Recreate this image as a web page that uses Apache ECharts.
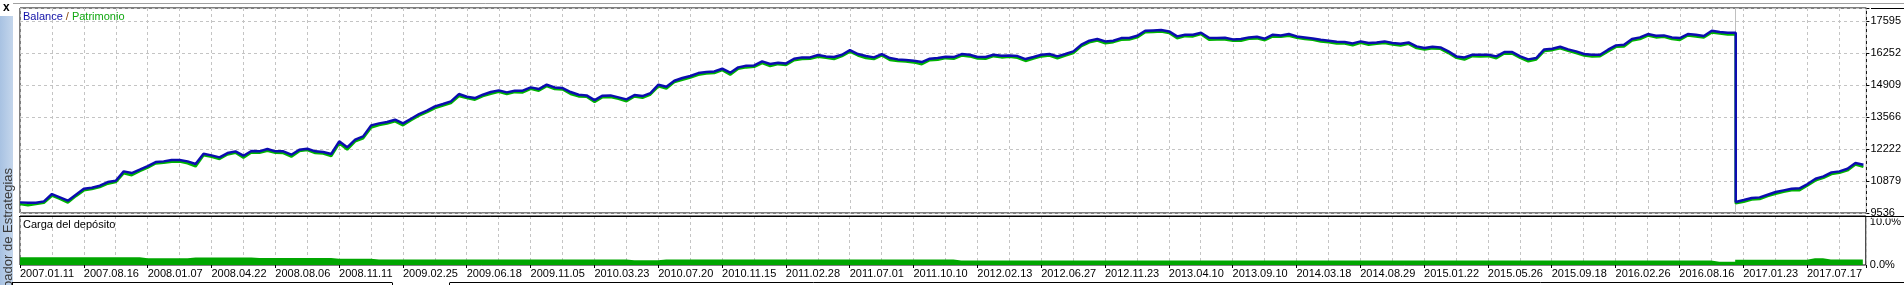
<!DOCTYPE html>
<html><head><meta charset="utf-8">
<script src="https://cdn.jsdelivr.net/npm/echarts@6/dist/echarts.min.js"></script>
<style>html,body{margin:0;padding:0;background:#fff;overflow:hidden}#c{width:1904px;height:285px}</style>
</head><body><div id="c"></div>
<script>
// ---- data ----
const xLabels = ['2007.01.11','2007.08.16','2008.01.07','2008.04.22','2008.08.06','2008.11.11','2009.02.25','2009.06.18','2009.11.05','2010.03.23','2010.07.20','2010.11.15','2011.02.28','2011.07.01','2011.10.10','2012.02.13','2012.06.27','2012.11.23','2013.04.10','2013.09.10','2014.03.18','2014.08.29','2015.01.22','2015.05.26','2015.09.18','2016.02.26','2016.08.16','2017.01.23','2017.07.17'];
const yLabels = ['9536','10879','12222','13566','14909','16252','17595'];
const loadLabels = ['0.0%','10.0%'];
const balance = [
9982,9968,9968,10024,10332,10192,10052,10304,10556,10598,
10682,10836,10892,11283,11213,11353,11507,11675,11703,11759,
11759,11703,11591,12025,11955,11871,12053,12123,11941,12137,
12123,12221,12123,12123,11983,12193,12235,12123,12095,12011,
12543,12291,12613,12752,13214,13298,13354,13452,13298,13494,
13690,13830,14011,14109,14221,14529,14417,14361,14501,14613,
14683,14599,14669,14669,14809,14739,14921,14809,14781,14613,
14501,14473,14277,14459,14473,14389,14305,14487,14445,14571,
14921,14837,15089,15201,15285,15410,15452,15480,15592,15424,
15648,15718,15732,15900,15788,15844,15816,16012,16068,16068,
16166,16110,16082,16180,16376,16208,16124,16068,16208,16040,
15984,15956,15928,15872,16012,16040,16096,16082,16208,16180,
16082,16082,16180,16138,16152,16124,15998,16082,16180,16208,
16110,16208,16320,16600,16767,16837,16739,16767,16879,16879,
16977,17187,17201,17215,17159,16949,17019,17019,17103,16893,
16879,16893,16823,16837,16907,16935,16851,17019,16991,17047,
16949,16907,16865,16809,16767,16725,16711,16655,16739,16669,
16697,16739,16669,16641,16697,16530,16460,16516,16488,16320,
16110,16068,16180,16180,16180,16110,16292,16292,16110,15984,
16040,16404,16432,16516,16404,16320,16208,16180,16180,16390,
16572,16600,16837,16907,17047,16977,16991,16907,16879,17047,
17019,16963,17187,17131,17103,10000,10080,10164,10192,10304,
10416,10486,10556,10570,10752,10976,11074,11241,11283,11395,
11633,11563];
const equity = [
9912,9858,9908,9964,10262,10132,9972,10244,10486,10538,
10622,10766,10832,11203,11123,11293,11437,11615,11643,11689,
11699,11623,11491,11955,11895,11801,11993,12063,11861,12077,
12063,12151,12063,12053,11903,12133,12175,12053,12035,11921,
12463,12201,12543,12672,13124,13228,13294,13382,13218,13434,
13620,13770,13941,14049,14151,14449,14357,14291,14441,14543,
14623,14529,14609,14599,14749,14669,14861,14739,14721,14533,
14431,14413,14197,14399,14403,14329,14225,14427,14375,14511,
14851,14757,15029,15131,15225,15340,15392,15410,15532,15344,
15588,15648,15672,15830,15708,15784,15746,15952,15998,16008,
16096,16050,16002,16120,16306,16148,16044,15998,16148,15960,
15914,15896,15858,15782,15952,15970,16036,16012,16148,16110,
16022,16012,16120,16068,16092,16054,15918,16022,16110,16148,
16030,16148,16250,16540,16697,16777,16659,16707,16809,16819,
16907,17127,17131,17155,17089,16869,16959,16949,17043,16813,
16819,16823,16763,16767,16847,16865,16791,16949,16931,16977,
16889,16837,16805,16739,16707,16655,16651,16575,16679,16599,
16637,16669,16609,16571,16637,16460,16400,16446,16428,16250,
16050,15978,16120,16110,16120,16030,16232,16222,16050,15904,
15980,16334,16372,16446,16344,16250,16148,16100,16120,16320,
16512,16530,16777,16837,16987,16907,16931,16837,16799,16987,
16949,16903,17117,17071,17033,9940,10010,10104,10122,10244,
10346,10426,10486,10490,10692,10906,11014,11171,11223,11325,
11573,11473];
const load = [
1.8,1.8,1.8,1.8,1.8,1.8,1.8,1.8,1.8,1.8,
1.8,1.8,1.8,1.8,1.8,1.55,1.55,1.55,1.55,1.55,
1.55,1.75,1.75,1.75,1.75,1.75,1.75,1.75,1.75,1.6,
1.6,1.6,1.6,1.6,1.6,1.6,1.6,1.6,1.6,1.45,
1.45,1.45,1.45,1.45,1.3,1.3,1.3,1.3,1.3,1.3,
1.3,1.3,1.3,1.3,1.3,1.3,1.3,1.3,1.3,1.3,
1.3,1.3,1.3,1.3,1.3,1.3,1.3,1.3,1.3,1.3,
1.3,1.3,1.3,1.3,1.3,1.3,1.1,1.1,1.1,1.1,
1.3,1.3,1.3,1.3,1.3,1.3,1.3,1.3,1.3,1.3,
1.3,1.3,1.3,1.3,1.3,1.3,1.3,1.3,1.3,1.3,
1.3,1.3,1.3,1.3,1.3,1.3,1.3,1.3,1.3,1.3,
1.3,1.3,1.3,1.3,1.3,1.3,1.3,1.05,1.05,1.05,
1.05,1.05,1.05,1.05,1.05,1.05,1.05,1.05,1.05,1.05,
1.05,1.05,1.05,1.05,1.05,1.05,1.05,1.05,1.05,1.05,
1.05,1.05,1.05,1.05,1.05,1.05,1.05,1.05,1.05,1.05,
1.05,1.05,1.05,1.05,1.05,1.05,1.05,1.05,1.05,1.05,
1.05,1.05,1.05,1.05,1.05,1.05,1.05,1.05,1.05,1.05,
1.05,1.05,1.05,1.05,1.05,1.05,1.05,1.05,1.05,1.05,
1.05,1.05,1.05,1.05,1.05,1.05,1.05,1.05,1.05,1.05,
1.05,1.05,1.05,1.05,1.05,1.05,1.05,1.05,1.05,1.05,
1.05,1.05,1.05,1.05,1.05,1.05,1.05,1.05,1.05,1.05,
1.05,1.05,0.75,0.75,0.75,1.25,1.25,1.25,1.25,1.25,
1.25,1.25,1.25,1.25,1.55,1.55,1.3,1.3,1.3,1.3,
1.3,1.3];

// ---- derived ----
const yMin = +yLabels[0];
const yStep = (+yLabels[yLabels.length-1] - yMin) / (yLabels.length - 1);
const yTop = 18141;
const xPerLabel = 8, xPerGrid = 4, xMax = 231.375;
let dropIdx = 1, worst = 0;
for (let i = 1; i < balance.length; i++) { const d = balance[i] - balance[i-1]; if (d < worst) { worst = d; dropIdx = i; } }
// the big withdrawal is drawn as a vertical jump at the drop index
function seriesData(arr) {
  const out = arr.map((v, i) => [i, v]);
  out.splice(dropIdx, 0, [dropIdx, arr[dropIdx - 1]]);
  return out;
}

const FONT = "'Liberation Sans Narrow','Liberation Sans',Arial,sans-serif";
const dashed = {show:true, lineStyle:{color:'#c4c4c4', type:[3,3], width:1}};
const chart = echarts.init(document.getElementById('c'), null, {renderer:'canvas'});
const G0 = {left:20, top:8, width:1851, height:205};
const G1 = {left:20, top:216, width:1851, height:49};

chart.setOption({
  animation:false,
  backgroundColor:'#fff',
  grid:[
    Object.assign({show:true, borderColor:'#000', borderWidth:1, backgroundColor:'#fff'}, G0),
    Object.assign({show:true, borderColor:'#000', borderWidth:1, backgroundColor:'#fff'}, G1)
  ],
  xAxis:[
    {gridIndex:0, type:'value', min:0, max:xMax, interval:xPerGrid, position:'bottom',
      axisLine:{show:false}, axisTick:{show:false}, axisLabel:{show:false}, splitLine:dashed},
    {gridIndex:1, type:'value', min:0, max:xMax, interval:xPerGrid, position:'top',
      axisLine:{show:false}, axisTick:{show:false}, axisLabel:{show:false}, splitLine:dashed},
    {gridIndex:1, type:'value', min:0, max:xMax, interval:xPerLabel, position:'bottom',
      axisLine:{show:false}, splitLine:{show:false},
      axisTick:{show:true, length:3, lineStyle:{color:'#000'}},
      axisLabel:{show:true, align:'left', margin:3, color:'#000', fontFamily:FONT, fontSize:11,
        formatter:v => (v % xPerLabel === 0 && xLabels[v/xPerLabel]) ? xLabels[v/xPerLabel] : ''}}
  ],
  yAxis:[
    {gridIndex:0, type:'value', min:yMin, max:yTop, position:'left', show:false},
    {gridIndex:0, type:'value', min:0, max:yTop - yMin, interval:yStep, position:'right',
      axisLine:{show:false}, splitLine:dashed,
      axisTick:{show:true, length:3, lineStyle:{color:'#000'}},
      axisLabel:{show:true, margin:4, color:'#000', fontFamily:FONT, fontSize:11, padding:[3,0,0,0],
        formatter:v => { const k = Math.round(v / yStep); return (Math.abs(k*yStep - v) < 0.5 && k < yLabels.length) ? yLabels[k] : ''; }}},
    {gridIndex:1, type:'value', min:0, max:11.4, interval:10, position:'right',
      axisLine:{show:false}, splitLine:{show:false},
      axisTick:{show:false},
      axisLabel:{show:true, margin:4, color:'#000', fontFamily:FONT, fontSize:11,
        formatter:v => v === 0 ? loadLabels[0] : (v === 10 ? loadLabels[1] : '')}}
  ],
  series:[
    {name:'Patrimonio', type:'line', xAxisIndex:0, yAxisIndex:0, symbol:'none', z:2,
      data:seriesData(equity), lineStyle:{color:'#00b400', width:2.5},
      markLine:{silent:true, z:1, symbol:'none', label:{show:false}, lineStyle:{color:'#c0c0c0', type:'solid', width:1},
        data:[{xAxis:dropIdx}]}},
    {name:'Balance', type:'line', xAxisIndex:0, yAxisIndex:0, symbol:'none', z:3,
      data:seriesData(balance), lineStyle:{color:'#0c0cb0', width:2.5}},
    {name:'Carga', type:'line', xAxisIndex:1, yAxisIndex:2, step:'end', symbol:'none', z:2,
      data:load.map((v,i)=>[i,v]), lineStyle:{width:0, opacity:0}, areaStyle:{color:'#00a600', opacity:1}}
  ],
  graphic:[
    {type:'rect', shape:{x:0, y:16, width:13, height:269}, z:50,
      style:{fill:new echarts.graphic.LinearGradient(0,0,1,0,[{offset:0,color:'#a8c2e2'},{offset:1,color:'#c4d6ec'}])}},
    {type:'text', x:3, y:2, z:51, style:{text:'x', font:"bold 12px 'Liberation Sans',Arial,sans-serif", fill:'#000'}},
    {type:'text', x:8, y:168, rotation:Math.PI/2, z:51,
      style:{text:'Probador de Estrategias', font:"13px 'Liberation Sans',Arial,sans-serif", fill:'#3a3a3a', align:'right', verticalAlign:'middle'}},
    {type:'line', z:50, shape:{x1:13, y1:3.5, x2:1904, y2:3.5}, style:{stroke:'#a0a0a0', lineWidth:1}},
    {type:'line', z:50, shape:{x1:1871, y1:8.5, x2:1904, y2:8.5}, style:{stroke:'#000', lineWidth:1}},
    {type:'rect', z:60, shape:{x:1872, y:216, width:32, height:2.5}, style:{fill:'#fff'}},
    {type:'line', z:61, shape:{x1:19, y1:216.5, x2:1904, y2:216.5}, style:{stroke:'#000', lineWidth:1}},
    {type:'line', z:50, shape:{x1:12, y1:282.5, x2:392, y2:282.5}, style:{stroke:'#000', lineWidth:1}},
    {type:'line', z:50, shape:{x1:450, y1:282.5, x2:1904, y2:282.5}, style:{stroke:'#000', lineWidth:1}},
    {type:'line', z:50, shape:{x1:392.5, y1:282.5, x2:392.5, y2:285}, style:{stroke:'#000', lineWidth:1}},
    {type:'line', z:50, shape:{x1:449.5, y1:282.5, x2:449.5, y2:285}, style:{stroke:'#000', lineWidth:1}},
    {type:'line', z:50, shape:{x1:12.5, y1:282.5, x2:12.5, y2:285}, style:{stroke:'#000', lineWidth:1}},
    {type:'text', x:23, y:17, z:55, style:{
      text:'{b|Balance} {s|/} {p|Patrimonio}', verticalAlign:'middle', font:'11px ' + FONT,
      rich:{b:{fill:'#1010a8', font:'11px ' + FONT}, s:{fill:'#8a4a10', font:'11px ' + FONT}, p:{fill:'#10a810', font:'11px ' + FONT}}}},
    {type:'text', x:23, y:224.5, z:55, style:{text:'Carga del depósito', verticalAlign:'middle', font:'11px ' + FONT, fill:'#000'}}
  ]
});
</script>
</body></html>
